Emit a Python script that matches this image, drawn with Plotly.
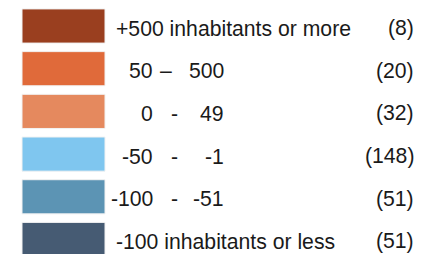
import plotly.graph_objects as go

# ---- data ----
classes = ["+500 inhabitants or more", "50 – 500", "0 - 49", "-50 - -1", "-100 - -51", "-100 inhabitants or less"]
range_low = [None, "50", "0", "-50", "-100", None]
range_sep = [None, "–", "-", "-", "-", None]
range_high = [None, "500", "49", "-1", "-51", None]
counts = [8, 20, 32, 148, 51, 51]
colors = ["#9A3F1F", "#E06A3A", "#E5895E", "#7FC6EF", "#5C94B4", "#465B73"]

# ---- style ----
FONT = "Liberation Sans, Arial, sans-serif"
FS = 21.2
TXT = "#1a1a1a"
SW_X0, SW_W = 22, 83

fig = go.Figure()
fig.add_trace(go.Bar(
    y=classes,
    x=[SW_W] * len(classes),
    base=SW_X0,
    orientation="h",
    marker=dict(color=colors, line=dict(color="#f2f2f2", width=1)),
    hoverinfo="skip",
    showlegend=False,
))

ann = []
for i, c in enumerate(classes):
    if range_low[i] is None:
        ann.append(dict(x=114, y=c, text=c, xanchor="left", showarrow=False))
    else:
        ann.append(dict(x=155, y=c, text=range_low[i], xanchor="right", showarrow=False))
        ann.append(dict(x=166 if range_sep[i] == "–" else 174, y=c, text=range_sep[i],
                        xanchor="center", showarrow=False))
        ann.append(dict(x=226, y=c, text=range_high[i], xanchor="right", showarrow=False))
    ann.append(dict(x=416, y=c, text=f"({counts[i]})", xanchor="right", showarrow=False))
for a in ann:
    a.update(xref="x", yref="y", yanchor="middle", yshift=-2,
             font=dict(family=FONT, size=FS, color=TXT))

fig.update_layout(
    width=421, height=254,
    margin=dict(l=0, r=0, t=0, b=0),
    paper_bgcolor="white", plot_bgcolor="white",
    bargap=0.2,
    xaxis=dict(range=[0, 421], visible=False, fixedrange=True),
    yaxis=dict(range=[5.34, -0.609], visible=False, type="category",
               categoryorder="array", categoryarray=classes, fixedrange=True),
    annotations=ann,
)
fig.write_html("out.html", config={"displayModeBar": False},
               post_script="document.body.style.margin='0';document.body.style.overflow='hidden';")
